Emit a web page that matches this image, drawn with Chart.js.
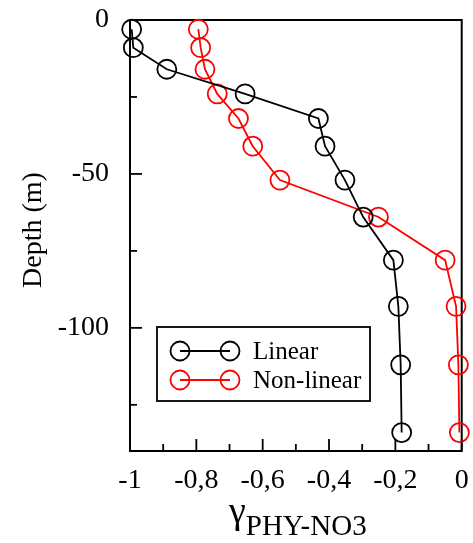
<!DOCTYPE html>
<html><head><meta charset="utf-8">
<script src="https://cdn.jsdelivr.net/npm/chart.js@4/dist/chart.umd.min.js"></script>
<style>html,body{margin:0;padding:0;background:#fff;}</style>
</head><body>
<canvas id="c" width="473" height="543" style="display:block;width:473px;height:543px"></canvas>
<script>
const depths = [-3, -9, -16, -24, -32, -41, -52, -64, -78, -93, -112, -134];
const linearGamma = [-0.995, -0.99, -0.889, -0.653, -0.432, -0.412, -0.352, -0.297, -0.206, -0.191, -0.184, -0.181];
const nonLinearGamma = [-0.794, -0.787, -0.774, -0.737, -0.673, -0.630, -0.548, -0.251, -0.050, -0.017, -0.010, -0.007];
const seriesNames = ['Linear', 'Non-linear'];
const seriesColors = ['#000000', '#ff0000'];
const xTickLabels = {'-1': '-1', '-0.8': '-0,8', '-0.6': '-0,6', '-0.4': '-0,4', '-0.2': '-0,2', '0': '0'};
const yTickLabels = {'0': '0', '-50': '-50', '-100': '-100'};
const xTitleMain = 'γ';
const xTitleSub = 'PHY-NO3';
const yTitle = 'Depth (m)';

const SERIF = '"Liberation Serif", "Times New Roman", serif';

function toPoints(xs) { return xs.map((x, i) => ({x: x, y: depths[i]})); }

const framePlugin = {
  id: 'frame',
  beforeDatasetsDraw(chart) {
    const {ctx, chartArea: a, scales} = chart;
    ctx.save();
    ctx.strokeStyle = '#000';
    ctx.lineWidth = 2;
    ctx.strokeRect(a.left, a.top, a.right - a.left, a.bottom - a.top);
    ctx.lineWidth = 1.8;
    scales.x.ticks.forEach(t => {
      const v = Math.round(t.value * 10) / 10;
      const major = Math.round(v * 10) % 2 === 0;
      const px = scales.x.getPixelForValue(v);
      const len = major ? 12 : 7;
      ctx.beginPath(); ctx.moveTo(px, a.bottom); ctx.lineTo(px, a.bottom - len); ctx.stroke();
    });
    scales.y.ticks.forEach(t => {
      const v = t.value;
      if (v % 25 !== 0) return;
      const major = v % 50 === 0;
      const py = scales.y.getPixelForValue(v);
      const len = major ? 12 : 7;
      ctx.beginPath(); ctx.moveTo(a.left, py); ctx.lineTo(a.left + len, py); ctx.stroke();
    });
    ctx.restore();
  },
  afterDraw(chart) {
    const {ctx, chartArea: a} = chart;
    ctx.save();
    ctx.fillStyle = '#000';
    ctx.textBaseline = 'alphabetic';
    ctx.textAlign = 'left';
    ctx.font = '38px ' + SERIF;
    const gx = 229;
    ctx.fillText(xTitleMain, gx, 523);
    const gw = ctx.measureText(xTitleMain).width;
    ctx.font = '29px ' + SERIF;
    ctx.fillText(xTitleSub, gx + gw, 535);
    ctx.translate(41, 230);
    ctx.rotate(-Math.PI / 2);
    ctx.textAlign = 'center';
    ctx.textBaseline = 'alphabetic';
    ctx.font = '28px ' + SERIF;
    ctx.fillText(yTitle, 0, 0);
    ctx.restore();

    ctx.save();
    const bx = a.left + 27, by = a.top + 307, bw = 213, bh = 74;
    ctx.fillStyle = '#fff';
    ctx.fillRect(bx, by, bw, bh);
    ctx.strokeStyle = '#000';
    ctx.lineWidth = 1.8;
    ctx.strokeRect(bx, by, bw, bh);
    chart.data.datasets.forEach((ds, i) => {
      const yy = by + 24 + i * 29;
      const x1 = bx + 23, x2 = bx + 73;
      ctx.strokeStyle = ds.borderColor;
      ctx.lineWidth = 1.8;
      ctx.beginPath(); ctx.moveTo(x1, yy); ctx.lineTo(x2, yy); ctx.stroke();
      [x1, x2].forEach(cx => { ctx.beginPath(); ctx.arc(cx, yy, 9.5, 0, Math.PI * 2); ctx.stroke(); });
      ctx.fillStyle = '#000';
      ctx.font = '25px ' + SERIF;
      ctx.textAlign = 'left';
      ctx.textBaseline = 'middle';
      ctx.fillText(ds.label, bx + 96, yy + 1);
    });
    ctx.restore();
  }
};

new Chart(document.getElementById('c'), {
  type: 'line',
  data: {
    datasets: [
      {label: seriesNames[0], data: toPoints(linearGamma), borderColor: seriesColors[0], backgroundColor: 'rgba(0,0,0,0)',
       pointBorderColor: seriesColors[0], pointBackgroundColor: 'rgba(0,0,0,0)', pointRadius: 9.5, pointBorderWidth: 1.8, borderWidth: 1.8, tension: 0},
      {label: seriesNames[1], data: toPoints(nonLinearGamma), borderColor: seriesColors[1], backgroundColor: 'rgba(0,0,0,0)',
       pointBorderColor: seriesColors[1], pointBackgroundColor: 'rgba(0,0,0,0)', pointRadius: 9.5, pointBorderWidth: 1.8, borderWidth: 1.8, tension: 0}
    ]
  },
  options: {
    responsive: false,
    animation: false,
    clip: false,
    layout: {padding: {top: 20, right: 11, left: 0, bottom: 0}},
    plugins: {legend: {display: false}, tooltip: {enabled: false}},
    scales: {
      x: {
        type: 'linear', min: -1, max: 0,
        grid: {display: false}, border: {display: false},
        afterFit(s) { s.height = 92; s.paddingLeft = 0; s.paddingRight = 0; },
        ticks: {
          stepSize: 0.1, autoSkip: false, maxRotation: 0, padding: 5, color: '#000',
          font: {family: SERIF, size: 28},
          callback(v) { const k = String(Math.round(v * 10) / 10); return xTickLabels[k] !== undefined ? xTickLabels[k] : ''; }
        }
      },
      y: {
        type: 'linear', min: -140, max: 0,
        grid: {display: false}, border: {display: false},
        afterFit(s) { s.width = 130; s.paddingTop = 0; s.paddingBottom = 0; },
        ticks: {
          stepSize: 25, autoSkip: false, padding: 13, color: '#000',
          font: {family: SERIF, size: 28},
          callback(v) { const k = String(v); return yTickLabels[k] !== undefined ? yTickLabels[k] : ''; }
        }
      }
    }
  },
  plugins: [framePlugin]
});
</script>
</body></html>
